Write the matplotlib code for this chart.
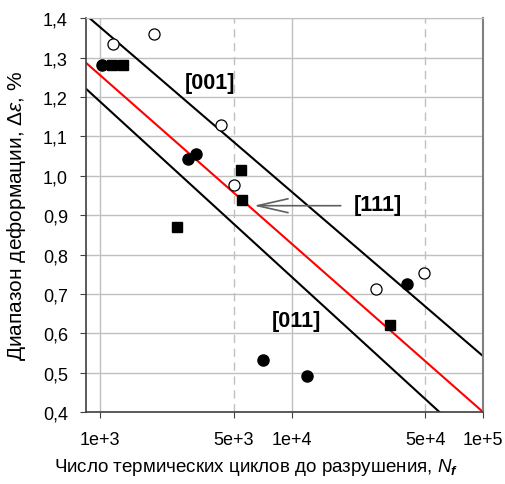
import matplotlib
matplotlib.use("Agg")
import matplotlib.pyplot as plt
import numpy as np

plt.rcParams['font.family'] = ['Liberation Sans', 'DejaVu Sans']
plt.rcParams['mathtext.fontset'] = 'custom'
plt.rcParams['mathtext.it'] = 'Liberation Sans:italic'
plt.rcParams['mathtext.rm'] = 'Liberation Sans'
plt.rcParams['mathtext.bf'] = 'Liberation Sans:bold:italic'

# Data
open_circ_N = [1164, 1905, 4275, 5035, 27600, 49000]
open_circ_de = [1.335, 1.361, 1.130, 0.976, 0.713, 0.752]

fill_circ_N = [1024, 2864, 3178, 39900, 7110, 12100]
fill_circ_de = [1.281, 1.043, 1.056, 0.726, 0.531, 0.492]

square_N = [1155, 1318, 2512, 5440, 5520, 32700]
square_de = [1.281, 1.281, 0.871, 1.015, 0.939, 0.621]

# Fit lines (end points)
upper_N = [884, 1e5]
upper_de = [1.40, 0.542]
mid_N = [845, 1e5]
mid_de = [1.287, 0.40]
lower_N = [845, 59200]
lower_de = [1.221, 0.40]

xticks = [1e3, 5e3, 1e4, 5e4, 1e5]
xticklabels = ['1e+3', '5e+3', '1e+4', '5e+4', '1e+5']
yticks = [0.4, 0.5, 0.6, 0.7, 0.8, 0.9, 1.0, 1.1, 1.2, 1.3, 1.4]
yticklabels = ['0,4', '0,5', '0,6', '0,7', '0,8', '0,9', '1,0', '1,1', '1,2', '1,3', '1,4']

fig = plt.figure(figsize=(5.05, 4.85), dpi=100)
ax = fig.add_axes([86/505, 1 - 413/485, (483-86)/505, (413-19.3)/485])

ax.set_xscale('log')
ax.set_xlim(845, 1e5)
ax.set_ylim(0.4, 1.4)

# grid
for v in yticks:
    ax.axhline(v, color='#c0c0c0', lw=1, zorder=0)
for v in [1e3, 1e4]:
    ax.axvline(v, color='#c0c0c0', lw=1, zorder=0)
for v in [5e3, 5e4]:
    ax.axvline(v, color='#c0c0c0', lw=1, ls=(0, (6, 4)), zorder=0)

ax.plot(upper_N, upper_de, color='black', lw=1.5, zorder=2)
ax.plot(mid_N, mid_de, color='#ff0000', lw=1.5, zorder=2)
ax.plot(lower_N, lower_de, color='black', lw=1.5, zorder=2)

ax.plot(open_circ_N, open_circ_de, 'o', ms=8, mfc='white', mec='black', mew=0.9, ls='none', zorder=3)
ax.plot(fill_circ_N, fill_circ_de, 'o', ms=8, mfc='black', mec='black', ls='none', zorder=3)
ax.plot(square_N, square_de, 's', ms=7.5, mfc='black', mec='black', ls='none', zorder=3)

ax.text(3760, 1.238, '[001]', fontsize=15.5, fontweight='bold', ha='center', va='center')
ax.text(28300, 0.927, '[111]', fontsize=15.5, fontweight='bold', ha='center', va='center')
ax.text(10570, 0.632, '[011]', fontsize=15.5, fontweight='bold', ha='center', va='center')
ax.annotate('', xy=(6140, 0.924), xytext=(18700, 0.924),
            arrowprops=dict(arrowstyle='->,head_length=2.2,head_width=0.5', color='#606060', lw=1.2))

ax.set_xticks(xticks)
ax.set_xticklabels(xticklabels)
ax.minorticks_off()
ax.set_yticks(yticks)
ax.set_yticklabels(yticklabels)
ax.tick_params(axis='both', labelsize=13, color='#404040', length=4, direction='out')
ax.tick_params(axis='x', pad=10)
ax.tick_params(axis='y', pad=9)

for s in ['left', 'bottom']:
    ax.spines[s].set_color('#404040')
    ax.spines[s].set_linewidth(1.2)
ax.spines['right'].set_color('#808080')
ax.spines['right'].set_linewidth(1.5)
ax.spines['top'].set_color('#c0c0c0')

ax.set_ylabel(r'Диапазон деформации, $\Delta\varepsilon$, %', fontsize=15)
ax.yaxis.set_label_coords(-0.174, 0.5)
ax.yaxis.label.set_va('center')
ax.set_xlabel(r'Число термических циклов до разрушения, $N_\mathbf{f}$', fontsize=13.5)
ax.xaxis.set_label_coords(0.428, -0.139)
ax.xaxis.label.set_va('center')

fig.savefig('out.png', dpi=100)
